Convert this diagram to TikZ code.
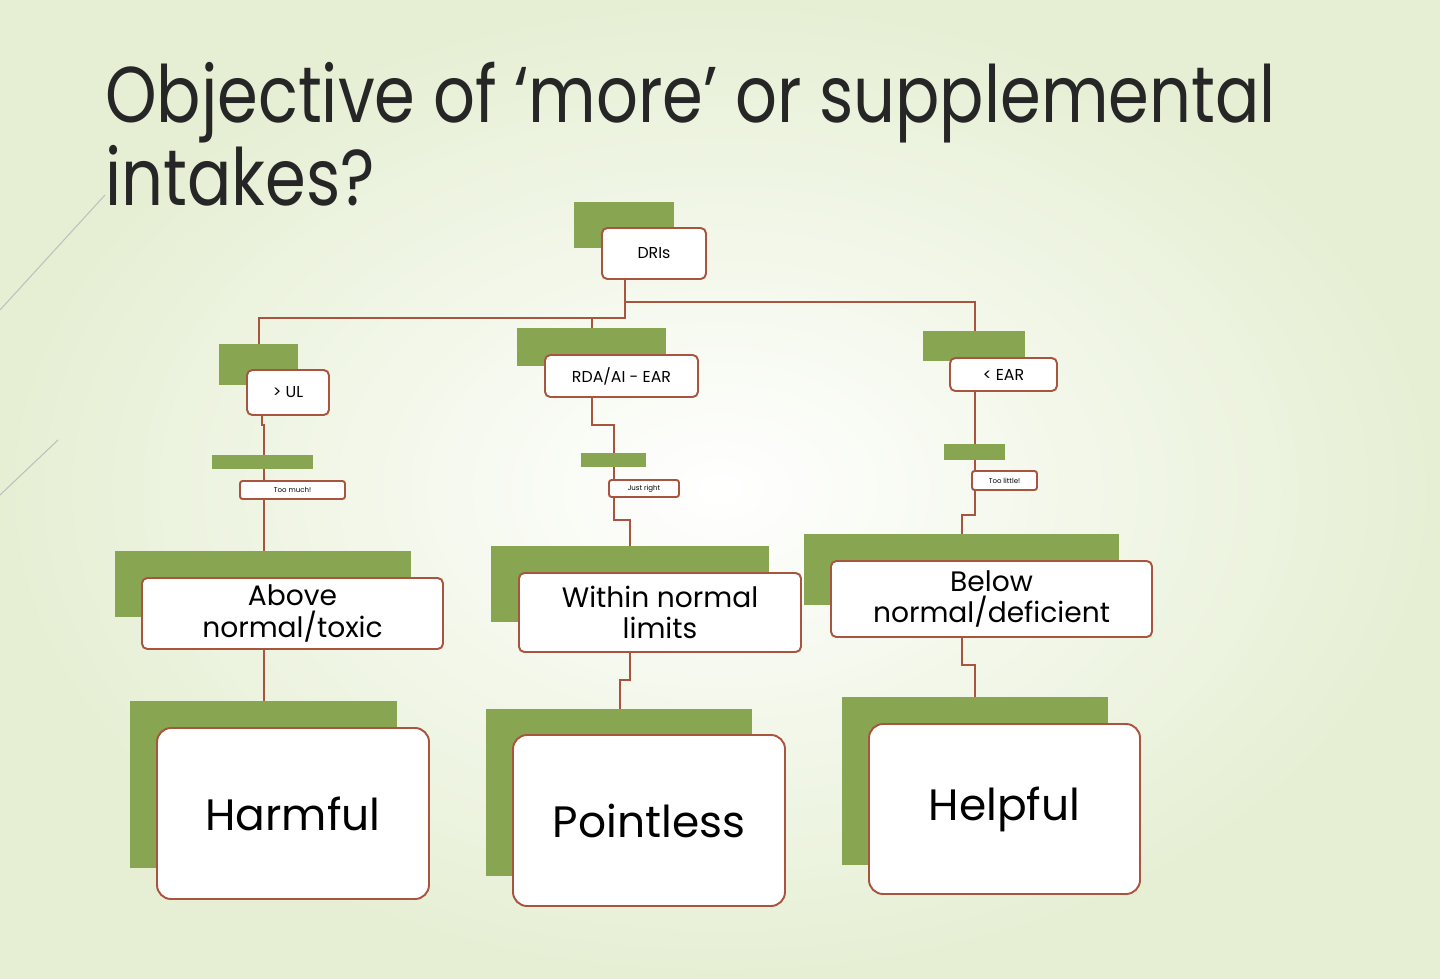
\documentclass[tikz,border=0pt]{standalone}
\usepackage{fontspec}
\usepackage{graphicx}
\setmainfont{Poppins}
\begin{document}
\begin{tikzpicture}[x=0.02cm,y=-0.02cm,
  gbox/.style={fill=sgreen,draw=none},
  wbox/.style={fill=white,draw=sbrown,line width=1.1pt,rounded corners=3pt,align=center,inner sep=0pt},
  conn/.style={draw=sbrown,line width=1.1pt}]
\definecolor{sgreen}{RGB}{136,166,82}
\definecolor{sbrown}{RGB}{168,84,62}
\definecolor{bgg}{RGB}{230,239,212}
\useasboundingbox (0,0) rectangle (1440,979);
\shade[inner color=white,outer color=bgg] (0,0) rectangle (1440,979);
\draw[gray!50,line width=0.6pt] (0,310) -- (105,195);
\draw[gray!50,line width=0.6pt] (0,495) -- (58,440);
\node[anchor=north west,align=left,inner sep=0pt,text=black!85] (title) at (105,62) {\scalebox{0.83}[1]{\fontsize{45}{54}\selectfont Objective of ‘more’ or supplemental}\\\scalebox{0.83}[1]{\fontsize{45}{54}\selectfont intakes?}};
\coordinate (j1) at (625,302);
\coordinate (j2) at (625,318);
\draw[conn] (625,279) -- (j1) -| (975,331);
\draw[conn] (j1) -- (j2) -| (259,344);
\draw[conn] (j2) -| (592,328);
\draw[conn] (262,415) -- (262,425) -- (264,425) -- (264,551);
\draw[conn] (592,397) -- (592,425) -- (614,425) -- (614,520) -- (630,520) -- (630,546);
\draw[conn] (975,391) -- (975,515) -- (962,515) -- (962,534);
\draw[conn] (264,649) -- (264,701);
\draw[conn] (630,652) -- (630,680) -- (620,680) -- (620,709);
\draw[conn] (962,637) -- (962,665) -- (975,665) -- (975,697);
\fill[sgreen] (574,202) rectangle (674,248);
\node[wbox,font=\fontsize{9}{10}\selectfont] (dri) at (654,253.5) [minimum width=104*0.02cm,minimum height=51*0.02cm] {DRIs};
\fill[sgreen] (219,344) rectangle (298,385);
\node[wbox,font=\fontsize{9}{10}\selectfont] (ul) at (288,392.5) [minimum width=82*0.02cm,minimum height=45*0.02cm] {> UL};
\fill[sgreen] (517,328) rectangle (666,366);
\node[wbox,font=\fontsize{9}{10}\selectfont] (rda) at (621.5,376) [minimum width=153*0.02cm,minimum height=42*0.02cm] {RDA/AI - EAR};
\fill[sgreen] (923,331) rectangle (1025,361);
\node[wbox,font=\fontsize{9}{10}\selectfont] (ear) at (1003.5,374.5) [minimum width=107*0.02cm,minimum height=33*0.02cm] {< EAR};
\fill[sgreen] (212,455) rectangle (313,469);
\node[wbox,font=\fontsize{4}{5}\selectfont,rounded corners=1.5pt] (tm) at (292.5,490) [minimum width=105*0.02cm,minimum height=18*0.02cm] {Too much!};
\fill[sgreen] (581,453) rectangle (646,467);
\node[wbox,font=\fontsize{4}{5}\selectfont,rounded corners=1.5pt] (jr) at (644,488.5) [minimum width=70*0.02cm,minimum height=17*0.02cm] {Just right};
\fill[sgreen] (944,444) rectangle (1005,460);
\node[wbox,font=\fontsize{4}{5}\selectfont,rounded corners=1.5pt] (tl) at (1004.5,480.5) [minimum width=65*0.02cm,minimum height=19*0.02cm] {Too little!};
\fill[sgreen] (115,551) rectangle (411,617);
\node[wbox,font=\fontsize{16}{18}\selectfont] (above) at (292.5,613.5) [minimum width=301*0.02cm,minimum height=71*0.02cm] {Above\\normal/toxic};
\fill[sgreen] (491,546) rectangle (769,622);
\node[wbox,font=\fontsize{16}{18}\selectfont] (within) at (660,612.5) [minimum width=282*0.02cm,minimum height=79*0.02cm] {Within normal\\limits};
\fill[sgreen] (804,534) rectangle (1119,605);
\node[wbox,font=\fontsize{16}{18}\selectfont] (below) at (991.5,599) [minimum width=321*0.02cm,minimum height=76*0.02cm] {Below\\normal/deficient};
\fill[sgreen] (130,701) rectangle (397,868);
\node[wbox,font=\fontsize{25}{30}\selectfont,rounded corners=8pt] (harm) at (293,813.5) [minimum width=272*0.02cm,minimum height=171*0.02cm] {Harmful};
\fill[sgreen] (486,709) rectangle (752,876);
\node[wbox,font=\fontsize{25}{30}\selectfont,rounded corners=8pt] (point) at (649,820.5) [minimum width=272*0.02cm,minimum height=171*0.02cm] {Pointless};
\fill[sgreen] (842,697) rectangle (1108,865);
\node[wbox,font=\fontsize{25}{30}\selectfont,rounded corners=8pt] (help) at (1004.5,809) [minimum width=271*0.02cm,minimum height=170*0.02cm] {Helpful};
\end{tikzpicture}
\end{document}
